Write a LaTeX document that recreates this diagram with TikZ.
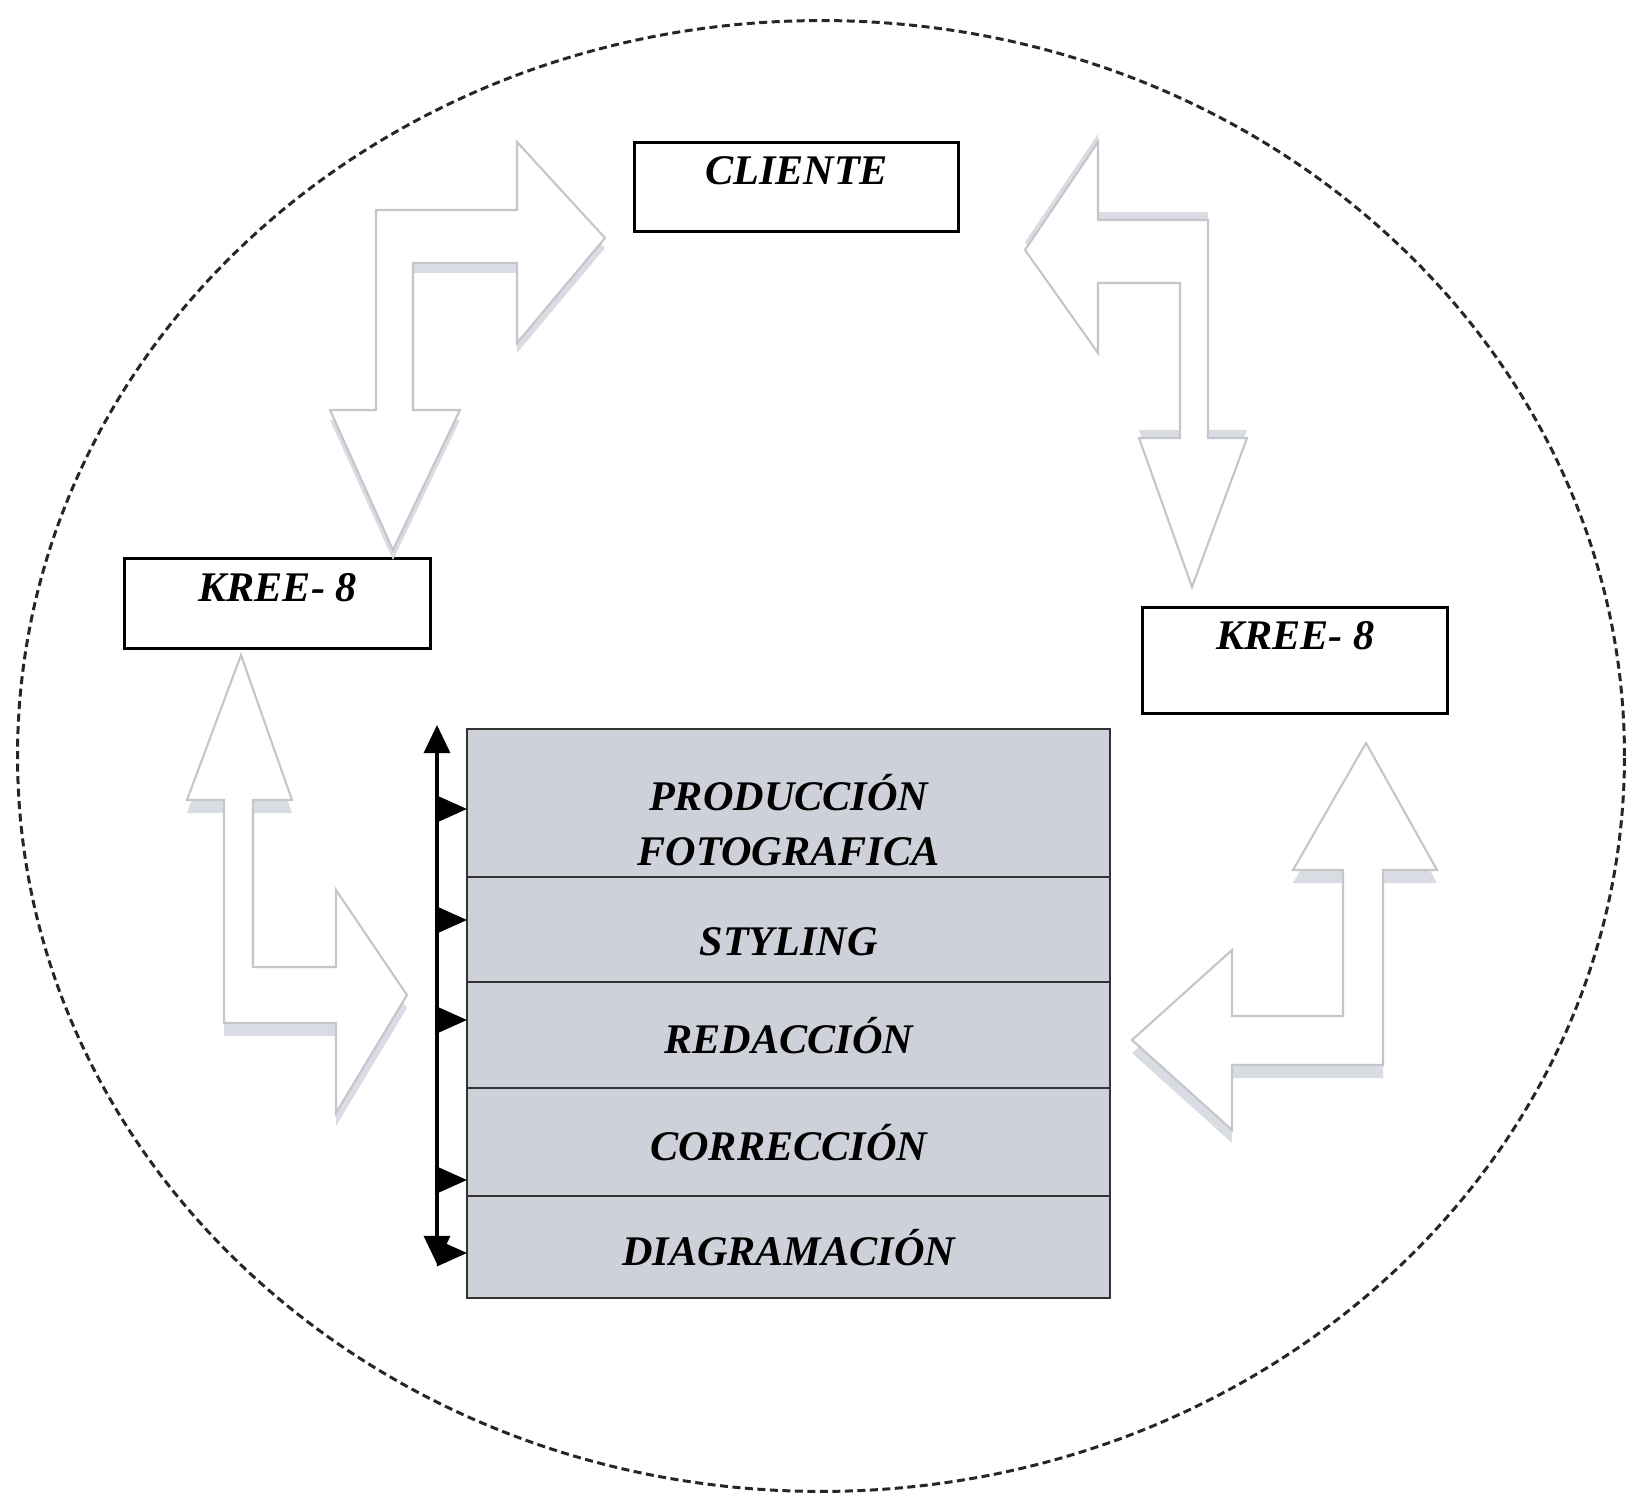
\documentclass[tikz,border=0pt]{standalone}
\usepackage{fontspec}
\setmainfont{Liberation Serif}
\usepackage{tikz}
\usetikzlibrary{arrows.meta,positioning,shadows}

\definecolor{arrowgray}{RGB}{196,198,204}
\definecolor{shadowgray}{RGB}{218,220,228}
\definecolor{stackgray}{RGB}{207,209,218}

\begin{document}
\begin{tikzpicture}[x=0.01cm, y=-0.01cm, font=\fontsize{12pt}{15.5pt}\selectfont\bfseries\itshape]

    \tikzstyle{kbox} = [rectangle, draw=black, line width=0.9pt, inner sep=0pt, anchor=north west, text centered]
    \tikzstyle{row} = [rectangle, draw=black!80, fill=stackgray, line width=0.6pt, outer sep=0pt, minimum width=6.43cm, text centered]
    \tikzstyle{bent} = [draw=arrowgray, fill=white, line width=0.6pt, line join=miter]
    \tikzstyle{tick} = [-{Triangle[length=0.3cm, width=0.26cm]}, line width=0.9pt]

    \useasboundingbox (0,0) rectangle (1627,1495);

    % outer dashed boundary
    \draw[dashed, dash pattern=on 0.08cm off 0.045cm, line width=0.85pt, black!85] (821,756) ellipse [x radius=8.03cm, y radius=7.35cm];

    \node (cliente) [kbox, minimum width=3.24cm, text height=0.42cm, text depth=0.47cm] at (633,141) {CLIENTE};
    \node (kreeL)   [kbox, minimum width=3.06cm, text height=0.425cm, text depth=0.475cm] at (123,557) {KREE- 8};
    \node (kreeR)   [kbox, minimum width=3.05cm, text height=0.415cm, text depth=0.645cm] at (1141,606) {KREE- 8};

    % stack of tasks
    \node (p1) [row, minimum height=1.48cm, anchor=north west,
                label={[yshift=-0.17cm, align=center]center:PRODUCCIÓN\\FOTOGRAFICA}] at (467,729) {};
    \node (p2) [row, minimum height=1.05cm, below=0pt of p1,
                label={[yshift=-0.12cm]center:STYLING}] {};
    \node (p3) [row, minimum height=1.06cm, below=0pt of p2] {REDACCIÓN};
    \node (p4) [row, minimum height=1.08cm, below=0pt of p3] {CORRECCIÓN};
    \node (p5) [row, minimum height=1.02cm, below=0pt of p4] {DIAGRAMACIÓN};

    % block arrows
    \draw[bent, drop shadow={shadow xshift=0pt, shadow yshift=-0.1cm, fill=shadowgray, opacity=1}]
        (376,410) -- (376,210) -- (517,210) -- (517,142) -- (605,238) -- (517,343) -- (517,263)
        -- (413,263) -- (413,410) -- (460,410) -- (393,550) -- (330,410) -- cycle;
    \draw[bent, drop shadow={shadow xshift=0pt, shadow yshift=0.08cm, fill=shadowgray, opacity=1}]
        (1098,142) -- (1098,220) -- (1208,220) -- (1208,438) -- (1247,438) -- (1192,587) -- (1139,438)
        -- (1180,438) -- (1180,283) -- (1098,283) -- (1098,353) -- (1025,250) -- cycle;
    \draw[bent, drop shadow={shadow xshift=0pt, shadow yshift=-0.13cm, fill=shadowgray, opacity=1}]
        (241,655) -- (292,800) -- (253,800) -- (253,967) -- (336,967) -- (336,890) -- (407,995)
        -- (336,1113) -- (336,1023) -- (224,1023) -- (224,800) -- (187,800) -- cycle;
    \draw[bent, drop shadow={shadow xshift=0pt, shadow yshift=-0.13cm, fill=shadowgray, opacity=1}]
        (1366,743) -- (1437,870) -- (1383,870) -- (1383,1065) -- (1232,1065) -- (1232,1130) -- (1132,1040)
        -- (1232,950) -- (1232,1016) -- (1343,1016) -- (1343,870) -- (1293,870) -- cycle;

    % flow line beside the stack
    \coordinate (vtop) at (437,725);
    \coordinate (vbot) at (437,1264);
    \draw[{Triangle[length=0.28cm, width=0.26cm]}-{Triangle[length=0.28cm, width=0.26cm]}, line width=0.9pt] (vtop) -- (vbot);
    \foreach \ty in {809,920,1020,1180,1253}
    {
        \coordinate (t) at (437,\ty);
        \draw[tick] (t) -- (t -| p1.west);
    }

\end{tikzpicture}
\end{document}
